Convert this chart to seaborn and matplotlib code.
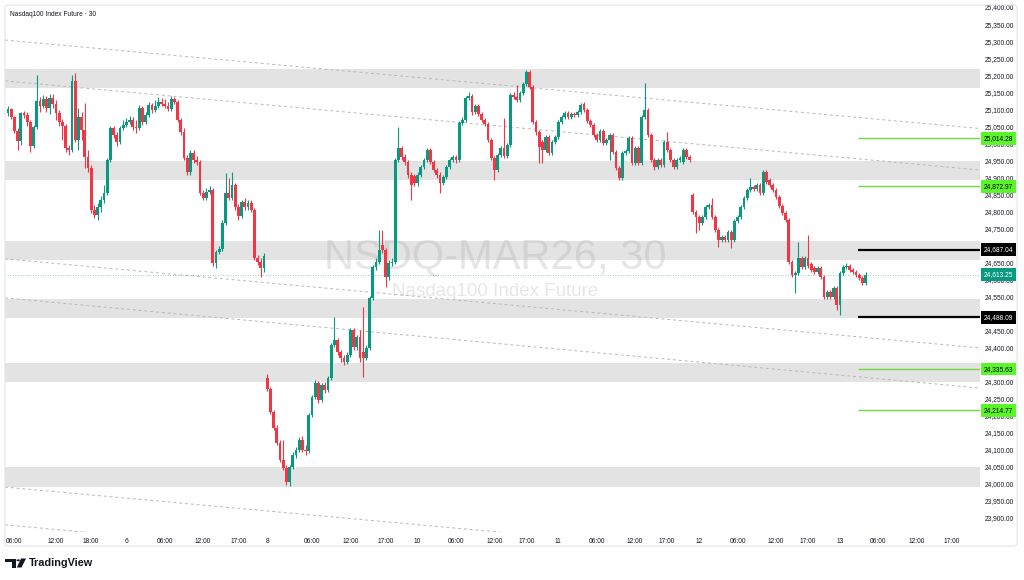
import numpy as np
import pandas as pd
import matplotlib
matplotlib.use("Agg")
import matplotlib.pyplot as plt
import matplotlib.transforms as mtrans
from matplotlib.patches import FancyBboxPatch, Polygon, Circle
from matplotlib.ticker import FixedLocator, FuncFormatter
import seaborn as sns

# ---------------- data (30-minute bars, NQ March 2026) ----------------
opens = [
    25089, 25101, 25077, 25036, 25006, 25089, 25083, 25062, 24992, 25048,
    25124, 25109, 25130, 25103, 25133, 25115, 25089, 25062, 25051, 24986,
    24980, 25183, 25009, 25077, 25039, 24959, 24927, 24804, 24789, 24812,
    24833, 24854, 24951, 25045, 25024, 25003, 25045, 25053, 25062, 25068,
    25048, 25045, 25103, 25062, 25083, 25112, 25098, 25109, 25121, 25115,
    25109, 25101, 25130, 25121, 25068, 25033, 24956, 24915, 24971, 24951,
    24945, 24854, 24839, 24856, 24862, 24648, 24680, 24689, 24765, 24854,
    24839, 24877, 24812, 24786, 24827, 24812, 24824, 24804, 24662, 24651,
    24633,
    24310, 24277, 24210, 24163, 24119, 24069, 24045, 24004, 24048, 24083,
    24098, 24127, 24098, 24095, 24201, 24254, 24295, 24245, 24289, 24274,
    24310, 24407, 24421, 24386, 24368, 24357, 24377, 24451, 24401, 24430,
    24386, 24368, 24398, 24545, 24636, 24651, 24701, 24686, 24607, 24648,
    24651, 24951, 24986, 24959, 24945, 24906, 24904, 24883, 24906, 24930,
    24951, 24980, 24945, 24921, 24906, 24883, 24901, 24930, 24951, 24959,
    24951, 25059, 25068, 25133, 25139, 25092, 25109, 25086, 25068, 25056,
    25009, 24956, 24921, 24965, 24986, 24962, 24995, 25142, 25136, 25127,
    25148, 25174, 25209, 25165, 25062, 25033, 25003, 24980, 25018, 24971,
    25003, 25018, 25062, 25077, 25089, 25077, 25086, 25083, 25092, 25115,
    25098, 25065, 25053, 25024, 25009, 25036, 25001, 25009, 25024, 24974,
    24927, 24898, 24971, 24977, 25015, 24942, 24986, 24942, 25077, 25098,
    25024, 24951, 24930, 24951, 24936, 25003, 24980, 24951, 24930, 24951,
    24945, 24980, 24959,
    24848, 24798, 24783, 24765, 24783, 24812, 24818, 24783, 24745, 24715,
    24724, 24715, 24739, 24715, 24771, 24783, 24812, 24839, 24862, 24871,
    24865, 24877, 24854, 24915, 24892, 24877, 24862, 24842, 24815, 24795,
    24774, 24651, 24612, 24618, 24662, 24636, 24662, 24645, 24633, 24621,
    24633, 24607, 24548, 24562, 24548, 24574, 24524, 24618, 24636, 24639,
    24627, 24621, 24612, 24604, 24589,
]
highs = [
    25109, 25103, 25080, 25045, 25092, 25095, 25092, 25068, 25053, 25200,
    25136, 25142, 25139, 25145, 25145, 25127, 25098, 25071, 25056, 24995,
    25200, 25206, 25103, 25092, 25118, 24980, 24936, 24818, 24824, 24845,
    24877, 24956, 25051, 25051, 25033, 25051, 25068, 25074, 25080, 25077,
    25068, 25112, 25109, 25092, 25121, 25118, 25127, 25136, 25133, 25130,
    25121, 25139, 25136, 25127, 25074, 25045, 24965, 24980, 24980, 24962,
    24951, 24862, 24868, 24874, 24868, 24686, 24698, 24774, 24912, 24898,
    24915, 24883, 24821, 24833, 24839, 24833, 24833, 24810, 24671, 24662,
    24677,
    24321, 24283, 24216, 24171, 24127, 24127, 24054, 24054, 24092, 24107,
    24136, 24139, 24113, 24207, 24260, 24304, 24301, 24295, 24298, 24316,
    24413, 24489, 24427, 24392, 24377, 24386, 24457, 24457, 24436, 24451,
    24518, 24407, 24551, 24642, 24662, 24745, 24745, 24692, 24657, 24662,
    24956, 25048, 24992, 24968, 24951, 24915, 24909, 24915, 24936, 24956,
    24986, 24986, 24951, 24927, 24915, 24906, 24936, 24956, 24965, 24965,
    25065, 25077, 25139, 25150, 25145, 25115, 25115, 25092, 25074, 25062,
    25015, 24962, 24971, 24992, 25074, 25001, 25148, 25150, 25171, 25153,
    25180, 25215, 25215, 25171, 25068, 25039, 25009, 25024, 25024, 25009,
    25024, 25068, 25083, 25095, 25095, 25092, 25092, 25098, 25118, 25121,
    25103, 25071, 25059, 25030, 25042, 25042, 25015, 25030, 25030, 24980,
    24933, 24977, 24983, 25021, 25021, 24992, 24992, 25083, 25177, 25103,
    25030, 24956, 24956, 24956, 25009, 25033, 24986, 24956, 24956, 24962,
    24986, 24986, 24965,
    24854, 24804, 24789, 24789, 24818, 24824, 24839, 24789, 24751, 24730,
    24730, 24745, 24745, 24777, 24789, 24818, 24845, 24868, 24898, 24877,
    24883, 24883, 24921, 24921, 24898, 24883, 24868, 24848, 24821, 24801,
    24780, 24657, 24624, 24710, 24668, 24668, 24730, 24651, 24639, 24639,
    24639, 24612, 24568, 24568, 24580, 24580, 24624, 24642, 24648, 24645,
    24633, 24627, 24618, 24610, 24621,
]
lows = [
    25080, 25071, 25030, 24980, 24995, 25074, 25051, 24974, 24986, 25042,
    25092, 25103, 25092, 25086, 25103, 25068, 25051, 25009, 24974, 24965,
    24974, 25003, 24980, 25009, 24927, 24915, 24795, 24780, 24774, 24798,
    24824, 24848, 24945, 25015, 24992, 24998, 25039, 25048, 25056, 25039,
    25030, 25039, 25053, 25056, 25077, 25089, 25092, 25103, 25109, 25103,
    25095, 25095, 25115, 25062, 25024, 24951, 24906, 24906, 24942, 24936,
    24848, 24833, 24833, 24851, 24639, 24633, 24674, 24683, 24760, 24833,
    24833, 24804, 24774, 24780, 24804, 24804, 24798, 24657, 24642, 24607,
    24621,
    24271, 24204, 24157, 24113, 24063, 24039, 23995, 23992, 24042, 24074,
    24092, 24092, 24083, 24089, 24195, 24248, 24236, 24239, 24266, 24268,
    24304, 24401, 24377, 24357, 24348, 24351, 24371, 24392, 24392, 24357,
    24313, 24363, 24392, 24539, 24627, 24645, 24677, 24577, 24598, 24639,
    24645, 24945, 24951, 24936, 24898, 24833, 24874, 24874, 24901, 24924,
    24945, 24939, 24915, 24898, 24854, 24877, 24895, 24924, 24945, 24942,
    24945, 25053, 25062, 25127, 25083, 25086, 25080, 25062, 25051, 25003,
    24951, 24892, 24915, 24959, 24956, 24956, 24989, 25130, 25121, 25121,
    25142, 25168, 25159, 25056, 25024, 24942, 24942, 24974, 24965, 24965,
    24998, 25012, 25056, 25071, 25071, 25071, 25077, 25077, 25086, 25092,
    25059, 25048, 25018, 25003, 25003, 24995, 24995, 24951, 24968, 24921,
    24892, 24892, 24965, 24971, 24936, 24936, 24936, 24936, 25071, 25018,
    24945, 24921, 24924, 24930, 24930, 24974, 24945, 24924, 24924, 24945,
    24939, 24953, 24945,
    24792, 24736, 24745, 24760, 24777, 24807, 24777, 24739, 24695, 24710,
    24710, 24710, 24692, 24710, 24765, 24777, 24807, 24833, 24856, 24859,
    24859, 24848, 24848, 24880, 24871, 24856, 24836, 24810, 24789, 24768,
    24645, 24607, 24560, 24612, 24630, 24630, 24633, 24621, 24615, 24615,
    24601, 24542, 24542, 24542, 24542, 24510, 24495, 24612, 24630, 24621,
    24615, 24607, 24598, 24583, 24583,
]
closes = [
    25101, 25077, 25036, 25006, 25089, 25083, 25062, 24992, 25048, 25124,
    25109, 25130, 25103, 25133, 25115, 25089, 25062, 25051, 24986, 24980,
    25183, 25009, 25077, 25039, 24959, 24927, 24804, 24789, 24812, 24833,
    24854, 24951, 25045, 25024, 25003, 25045, 25053, 25062, 25068, 25048,
    25045, 25103, 25062, 25083, 25112, 25098, 25109, 25121, 25115, 25109,
    25101, 25130, 25121, 25068, 25033, 24956, 24915, 24971, 24951, 24945,
    24854, 24839, 24856, 24862, 24648, 24680, 24689, 24765, 24854, 24839,
    24877, 24812, 24786, 24827, 24812, 24824, 24804, 24662, 24651, 24633,
    24668,
    24277, 24210, 24163, 24119, 24069, 24045, 24004, 24048, 24083, 24098,
    24127, 24098, 24095, 24201, 24254, 24295, 24245, 24289, 24274, 24310,
    24407, 24421, 24386, 24368, 24357, 24377, 24451, 24401, 24430, 24368,
    24368, 24398, 24545, 24636, 24651, 24686, 24686, 24607, 24648, 24651,
    24951, 24986, 24959, 24945, 24906, 24877, 24883, 24906, 24930, 24951,
    24980, 24945, 24921, 24906, 24883, 24901, 24930, 24951, 24959, 24951,
    25059, 25068, 25133, 25139, 25092, 25109, 25086, 25068, 25056, 25009,
    24956, 24921, 24965, 24986, 24962, 24995, 25142, 25136, 25127, 25148,
    25174, 25209, 25165, 25062, 25033, 24989, 24980, 25018, 24971, 25003,
    25018, 25062, 25077, 25089, 25077, 25086, 25083, 25092, 25112, 25098,
    25065, 25053, 25024, 25009, 25036, 25001, 25009, 25024, 24974, 24927,
    24898, 24971, 24977, 25015, 24942, 24986, 24942, 25077, 25098, 25024,
    24951, 24930, 24951, 24936, 25003, 24980, 24951, 24930, 24951, 24956,
    24980, 24959, 24951,
    24798, 24783, 24765, 24783, 24812, 24818, 24783, 24745, 24715, 24724,
    24715, 24739, 24715, 24771, 24783, 24812, 24839, 24862, 24871, 24865,
    24877, 24854, 24915, 24886, 24877, 24862, 24842, 24815, 24795, 24774,
    24651, 24612, 24618, 24662, 24636, 24662, 24639, 24627, 24621, 24633,
    24607, 24548, 24562, 24548, 24574, 24524, 24618, 24636, 24639, 24627,
    24621, 24612, 24604, 24589, 24613.25,
]

# time-axis labels (bar index where TradingView prints them)
tick_bars = [2, 15, 26, 37, 49, 61, 72, 81, 95, 107, 118, 128, 140, 152,
             162, 172, 184, 196, 206, 216, 228, 240, 250, 260, 272, 284, 295]
tick_labels = ["06:00", "12:00", "18:00", "6", "06:00", "12:00", "17:00",
               "8", "06:00", "12:00", "17:00", "10", "06:00", "12:00",
               "17:00", "11", "06:00", "12:00", "17:00", "12", "06:00",
               "12:00", "17:00", "13", "06:00", "12:00", "17:00"]

# grey supply / demand zones (price ranges)
zone_low = [25162, 24892, 24657, 24486, 24298, 23989]
zone_high = [25218, 24948, 24712, 24542, 24354, 24048]

# dashed descending channel lines: price at left edge / right edge of pane
trend_start = [25303, 25183, 24660, 24545, 23989, 23878]
trend_end = [25043, 24921, 24398, 24280, 23728, 23617]

# horizontal levels with price tags
level_price = [25014.28, 24872.97, 24687.04, 24488.09, 24335.63, 24214.77]
level_kind = ["green", "green", "black", "black", "green", "green"]
last_price = 24613.25

# ---------------- styling ----------------
sns.set_theme(style="white")
plt.rcParams["font.family"] = ["Liberation Sans", "DejaVu Sans"]

UP = "#089981"
DOWN = "#F23645"
TXT = "#131722"
LEVEL_COL = {"green": "#6fdc3c", "black": "#000000"}
TAG_COL = {"green": "#5cf52a", "black": "#000000"}
TAG_TXT = {"green": "#000000", "black": "#ffffff"}

assert len(opens) == len(highs) == len(lows) == len(closes)
df = pd.DataFrame({"o": opens, "h": highs, "l": lows, "c": closes})
df["bar"] = np.arange(len(df))
df["up"] = df["c"] >= df["o"]
colors = np.where(df["up"], UP, DOWN)

W, H = 1024, 580
fig = plt.figure(figsize=(W / 100, H / 100), dpi=100)
fig.patch.set_facecolor("white")

X0, X1 = -0.94, 303.75
Y0, Y1 = 23857, 25406
ax = fig.add_axes([5 / W, 48 / H, 975 / W, 527 / H])
ax.set_xlim(X0, X1)
ax.set_ylim(Y0, Y1)
ax.set_facecolor("white")
sns.despine(ax=ax, left=True, bottom=True, right=True, top=True)
ax.grid(False)

# zones
for lo, hi in zip(zone_low, zone_high):
    ax.axhspan(lo, hi, color="#e3e3e3", lw=0, zorder=0.2)

# watermark
ax.text(0.503, 0.522, "NSDQ-MAR26, 30", transform=ax.transAxes,
        fontsize=30, color="#a8a8a8", alpha=0.28, ha="center", va="center",
        zorder=0.5)
ax.text(0.503, 0.457, "Nasdaq100 Index Future", transform=ax.transAxes,
        fontsize=13.5, color="#a8a8a8", alpha=0.28, ha="center", va="center",
        zorder=0.5)

# dashed channel lines
for s, e in zip(trend_start, trend_end):
    ax.plot([X0, X1], [s, e], color="#b8b8b8", lw=0.7,
            dashes=(3, 3), zorder=1)

# current price dotted line
ax.axhline(last_price, color=UP, lw=0.6, ls=(0, (1, 2)), alpha=0.6, zorder=1)

# candles
body_lo = np.minimum(df["o"], df["c"])
body_h = np.maximum(np.abs(df["c"] - df["o"]), 1.5)
ax.vlines(df["bar"], df["l"], df["h"], colors=colors, lw=0.8, zorder=2.5)
ax.bar(df["bar"], body_h, bottom=body_lo, width=0.82, color=colors,
       linewidth=0, zorder=3)

# horizontal levels
lvl_start = 265.6
for p, k in zip(level_price, level_kind):
    ax.hlines(p, lvl_start, X1, colors=LEVEL_COL[k],
              lw=1.6 if k == "black" else 1.0, zorder=4)

# price axis
ax.yaxis.tick_right()
ax.yaxis.set_major_locator(FixedLocator(np.arange(23900, 25401, 50)))
ax.yaxis.set_major_formatter(FuncFormatter(lambda v, _: f"{v:,.2f}"))
ax.tick_params(axis="y", length=0, pad=3.6, labelsize=4.8, labelcolor=TXT)

# time axis
ax.xaxis.set_major_locator(FixedLocator(tick_bars))
ax.set_xticklabels(tick_labels)
ax.tick_params(axis="x", length=0, pad=4.5, labelsize=4.8, labelcolor=TXT)

# price tags
blend = mtrans.blended_transform_factory(ax.transAxes, ax.transData)
for p, k in zip(level_price, level_kind):
    ax.text(1.0 + 3.5 / 975, p, f"{p:,.2f}", transform=blend, ha="left",
            va="center", fontsize=4.8, color=TAG_TXT[k], clip_on=False,
            zorder=10,
            bbox=dict(boxstyle="square,pad=0.42", fc=TAG_COL[k], ec="none"))
ax.text(1.0 + 3.5 / 975, last_price, f"{last_price:,.2f}", transform=blend,
        ha="left", va="center", fontsize=4.8, color="white", clip_on=False,
        zorder=10, bbox=dict(boxstyle="square,pad=0.42", fc=UP, ec="none"))

# title
fig.text(10 / W, 1 - 14.5 / H, "Nasdaq100 Index Future · 30", fontsize=4.8,
         color=TXT, ha="left", va="center")

# outer frame
fig.patches.append(FancyBboxPatch((5 / W, 1 - 546 / H), 1012 / W, 541 / H,
                                  boxstyle="round,pad=0,rounding_size=0.004",
                                  transform=fig.transFigure, fc="none",
                                  ec="#e3e5ea", lw=0.8))

# TradingView logo
def fpx(x, y):
    return (x / W, 1 - y / H)

fig.patches.append(Polygon([fpx(5, 558.5), fpx(15.5, 558.5), fpx(15.5, 567.5),
                            fpx(11.5, 567.5), fpx(11.5, 562), fpx(5, 562)],
                           closed=True, transform=fig.transFigure,
                           fc=TXT, ec="none"))
fig.patches.append(Circle(fpx(18.2, 560.3), 1.7 / W,
                          transform=fig.transFigure, fc=TXT, ec="none"))
fig.patches.append(Polygon([fpx(21, 558.5), fpx(26, 558.5), fpx(21.5, 567.5),
                            fpx(16.8, 567.5)],
                           closed=True, transform=fig.transFigure,
                           fc=TXT, ec="none"))
fig.text(28.5 / W, 1 - 563.5 / H, "TradingView", fontsize=7.8,
         fontweight="bold", color=TXT, ha="left", va="center")

fig.savefig("out.png", dpi=100)
